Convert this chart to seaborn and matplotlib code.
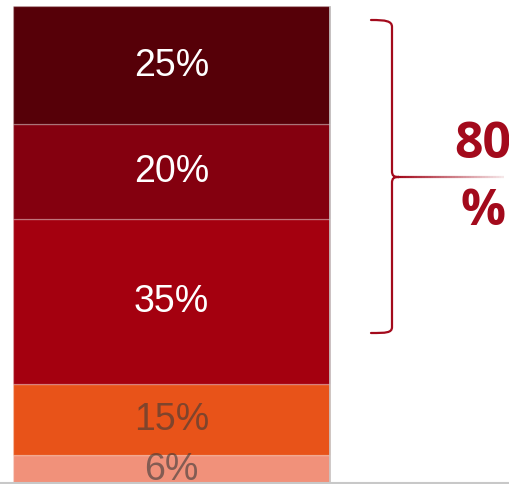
import numpy as np
import pandas as pd
import matplotlib
matplotlib.use("Agg")
import matplotlib.pyplot as plt
from matplotlib.path import Path
from matplotlib.patches import PathPatch
from matplotlib.collections import LineCollection
import seaborn as sns

# Segments, stacked bottom to top
segments = ["6%", "15%", "35%", "20%", "25%"]
shares = [6, 15, 35, 20, 25]
colors = ["#F1917A", "#E85319", "#A4000F", "#84000F", "#560008"]
label_colors = ["#3a3a3a", "#3a3a3a", "white", "white", "white"]
bracket_total = "80\n%"

W, H = 509, 485
sns.set_theme(style="white")
plt.rcParams["font.family"] = ["Liberation Sans", "DejaVu Sans"]

fig = plt.figure(figsize=(W / 100, H / 100), dpi=100)
ax = fig.add_axes([0, 0, 1, 1])

df = pd.DataFrame({"group": ["all"] * len(shares), "segment": segments, "share": shares})
bottoms = np.concatenate([[0], np.cumsum(shares)[:-1]])

for i, row in df.iterrows():
    sns.barplot(x=[row["group"]], y=[row["share"]], bottom=bottoms[i],
                color=colors[i], saturation=1, width=1.0,
                edgecolor=(1, 1, 1, 0.22), linewidth=1.0, ax=ax)
    ax.text(0, bottoms[i] + row["share"] / 2, row["segment"],
            ha="center", va="center", fontsize=27,
            color=label_colors[i], alpha=1.0 if label_colors[i] == "white" else 0.6)

total = sum(shares)
px_per_unit = 477 / total
# map pixel layout onto data coordinates
bar_left_px, bar_right_px = 13, 330
bar_w_px = bar_right_px - bar_left_px
ax.set_xlim(-0.5 - bar_left_px / bar_w_px, 0.5 + (W - bar_right_px) / bar_w_px)
ax.set_ylim(-1 / px_per_unit, (H - 1) / px_per_unit)
ax.axis("off")

# light frame on the right of the bar and baseline
ax.vlines(0.5, 0, total, color="#c9c9c9", lw=1.2)
ax.axhline(0, color="#c8c8c8", lw=1.5)

# curly bracket around the top three segments (figure pixel space)
def fp(x, y):
    return (x / W, 1 - y / H)

red = "#A30A1C"
verts = [fp(371, 21), fp(386, 21), fp(392, 22), fp(392, 28),
         fp(392, 172),
         fp(392, 177), fp(394, 178), fp(399, 178),
         fp(394, 178), fp(392, 179), fp(392, 184),
         fp(392, 328),
         fp(392, 334), fp(386, 334), fp(371, 334)]
codes = [Path.MOVETO, Path.CURVE4, Path.CURVE4, Path.CURVE4,
         Path.LINETO,
         Path.CURVE4, Path.CURVE4, Path.CURVE4,
         Path.CURVE4, Path.CURVE4, Path.CURVE4,
         Path.LINETO,
         Path.CURVE4, Path.CURVE4, Path.CURVE4]
fig.add_artist(PathPatch(Path(verts, codes), fill=False, edgecolor=red,
                         lw=1.6, transform=fig.transFigure, capstyle="round"))

# pointer line fading to the right
xs = np.linspace(398, 504, 40)
segs = [[fp(xs[k], 178), fp(xs[k + 1], 178)] for k in range(len(xs) - 1)]
alphas = np.linspace(1, 0.1, len(segs))
lc = LineCollection(segs, colors=[(0.64, 0.04, 0.11, a) for a in alphas],
                    linewidths=1.6, transform=fig.transFigure)
fig.add_artist(lc)

top_line, bottom_line = bracket_total.split("\n")
fig.text(483 / W, 1 - 158 / H, top_line, ha="center", va="baseline",
         fontsize=36, fontweight="bold", color=red, family=["Open Sans", "DejaVu Sans"])
fig.text(483 / W, 1 - 225 / H, bottom_line, ha="center", va="baseline",
         fontsize=36, fontweight="bold", color=red, family=["Open Sans", "DejaVu Sans"])

fig.savefig("out.png", dpi=100)
